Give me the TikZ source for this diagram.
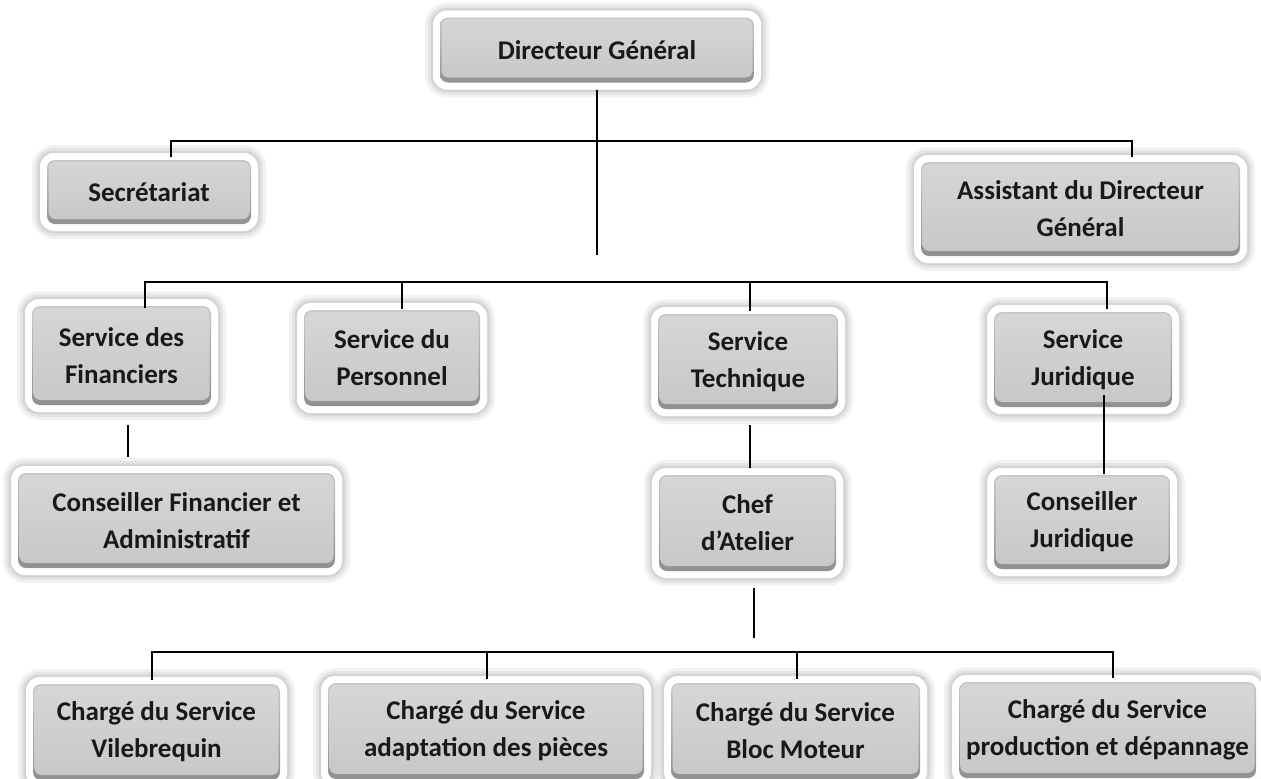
\documentclass[tikz,border=0pt]{standalone}
\usepackage{fontspec}
\newfontfamily\orgfont{Carlito}
\usepackage{tikz}
\usetikzlibrary{calc}
\definecolor{boxgray}{RGB}{214,214,214}
\definecolor{boxlow}{RGB}{200,200,200}
\definecolor{boxrim}{RGB}{140,140,140}
\tikzstyle{post}=[fill=white,rounded corners=14pt,align=center,inner sep=0pt,
  font=\orgfont\bfseries\fontsize{27}{37}\selectfont,text=black!90,
  preaction={draw=black,draw opacity=.05,line width=16pt},
  preaction={draw=black,draw opacity=.06,line width=10pt},
  preaction={draw=black,draw opacity=.07,line width=5pt},
  path picture={
    \shade[top color=boxrim!45,bottom color=boxrim,rounded corners=8pt] ([shift={(7pt,7pt)}]path picture bounding box.south west) rectangle ([shift={(-7pt,-7pt)}]path picture bounding box.north east);
    \shade[top color=boxgray,bottom color=boxlow,rounded corners=7pt] ([shift={(8.5pt,12pt)}]path picture bounding box.south west) rectangle ([shift={(-8.5pt,-8.5pt)}]path picture bounding box.north east);
  }]
\tikzstyle{link}=[line width=1.5pt,black]

\begin{document}
\begin{tikzpicture}[x=1pt,y=-1pt]
\useasboundingbox (0,0) rectangle (1261,779);
% top
\node [post,minimum width=328pt,minimum height=79pt] (dg) at (597,50) {Directeur Général};
\node [post,minimum width=218pt,minimum height=78pt] (sec) at (149,192) {Secrétariat};
\node [post,minimum width=333pt,minimum height=108pt] (asst) at (1080.5,209) {Assistant du Directeur\\Général};
% services
\node [post,minimum width=193pt,minimum height=113pt] (fin) at (121.5,355.5) {Service des\\Financiers};
\node [post,minimum width=190pt,minimum height=110pt] (pers) at (392,358) {Service du\\Personnel};
\node [post,minimum width=194pt,minimum height=109pt] (tech) at (748,361.5) {Service\\Technique};
\node [post,minimum width=192pt,minimum height=109pt] (jur) at (1083,359.5) {Service\\Juridique};
\node [post,minimum width=331pt,minimum height=109pt] (cfin) at (176.5,520.5) {Conseiller Financier et\\Administratif};
\node [post,minimum width=191pt,minimum height=110pt] (chef) at (747.5,523) {Chef\\d’Atelier};
\node [post,minimum width=190pt,minimum height=108pt] (cjur) at (1082,522) {Conseiller\\Juridique};
% atelier
\node [post,minimum width=261pt,minimum height=110pt] (vil) at (156.5,732) {Chargé du Service\\Vilebrequin};
\node [post,minimum width=330pt,minimum height=110pt] (adap) at (486,731) {Chargé du Service\\adaptation des pièces};
\node [post,minimum width=263pt,minimum height=110pt] (bloc) at (795.5,731) {Chargé du Service\\Bloc Moteur};
\node [post,minimum width=311pt,minimum height=110pt] (prod) at (1107.5,730) {Chargé du Service\\production et dépannage};

\coordinate (topbus) at (597,141);
\coordinate (midbus) at (597,282);
\coordinate (dgend) at (597,255);
\coordinate (lowbus) at (754,652);
\coordinate (chefend) at (754,638);

\draw[link] (dg.south) -- (dgend);
\draw[link] ([xshift=22pt,yshift=-4pt]sec.north) |- (topbus) -| ([xshift=51.5pt,yshift=-2pt]asst.north);
\draw[link] ([xshift=23.5pt,yshift=-9pt]fin.north) |- (midbus) -| ([xshift=24pt,yshift=-4pt]jur.north);
\draw[link] ([xshift=10pt,yshift=-6pt]pers.north) |- (midbus);
\draw[link] ([xshift=2pt,yshift=-4pt]tech.north) |- (midbus);
\draw[link] ([xshift=6.5pt,yshift=-13pt]fin.south) -- ([xshift=-48.5pt,yshift=9pt]cfin.north);
\draw[link] ([xshift=2pt,yshift=-9pt]tech.south) -- ([xshift=2.5pt]chef.north);
\draw[link] ([xshift=21pt,yshift=19pt]jur.south) -- ([xshift=22pt,yshift=-6pt]cjur.north);
\draw[link] ([xshift=6.5pt,yshift=-10pt]chef.south) -- (chefend);
%\draw[link] (chefend) -- (lowbus);
\draw[link] ([xshift=-4.5pt,yshift=-3pt]vil.north) |- (lowbus) -| ([xshift=5.5pt,yshift=-3pt]prod.north);
\draw[link] ([xshift=1pt,yshift=-3pt]adap.north) |- (lowbus);
\draw[link] ([xshift=1.5pt,yshift=-3pt]bloc.north) |- (lowbus);
\end{tikzpicture}
\end{document}
